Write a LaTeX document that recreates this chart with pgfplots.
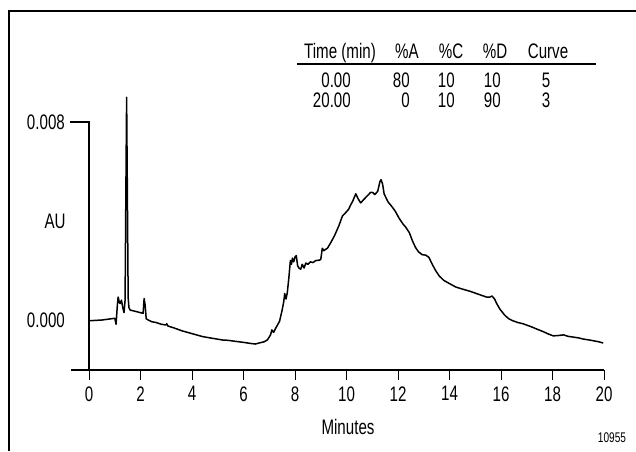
\documentclass[border=0pt]{standalone}
\usepackage{fontspec}
\setmainfont{Liberation Sans}[FakeStretch=0.72]
\usepackage{pgfplots}
\pgfplotsset{compat=1.18}
\newcommand\f{\fontsize{21}{24}\selectfont}
\newcommand\fs{\fontsize{14}{16}\selectfont}
\begin{document}
\begin{tikzpicture}
% frame (top and left edges)
\draw[line width=2.5pt] (9pt,-451pt) -- (9pt,-11pt) -- (636pt,-11pt);
\begin{axis}[
  at={(71pt,-370pt)}, anchor=south west,
  scale only axis, width=533pt, height=277.7pt,
  xmin=-0.7, xmax=20, ymin=-0.00202, ymax=0.0092,
  axis x line=bottom, axis y line=none,
  axis line style={-, line width=1.3pt},
  xtick={0,2,...,20}, ytick=\empty,
  tick align=outside, major tick length=10pt,
  every tick/.style={black, line width=1pt},
  xticklabel style={font=\f, yshift=-3pt},
  /pgf/number format/assume math mode=true,
  clip=false,
]
\addplot[black, line width=1.5pt, line join=round] coordinates {
(0.00,-0.00003) (0.50,0.00000) (1.00,0.00007) (1.05,-0.00017) (1.10,0.00060)
(1.13,0.00093) (1.18,0.00070) (1.21,0.00067) (1.26,0.00080) (1.31,0.00050)
(1.36,0.00030) (1.40,0.00080) (1.43,0.00500) (1.46,0.00900) (1.49,0.00500)
(1.52,0.00090) (1.55,0.00050) (1.60,0.00040) (1.80,0.00035) (2.10,0.00027)
(2.14,0.00087) (2.18,0.00060) (2.22,0.00005) (2.30,0.00000) (2.44,-0.00007)
(2.60,-0.00010) (2.80,-0.00017) (2.98,-0.00020) (3.02,-0.00015) (3.06,-0.00024)
(3.30,-0.00032) (3.62,-0.00044) (4.00,-0.00055) (4.41,-0.00067) (4.80,-0.00074)
(5.20,-0.00081) (5.40,-0.00082) (5.60,-0.00085) (5.98,-0.00090) (6.30,-0.00095)
(6.46,-0.00097) (6.60,-0.00093) (6.80,-0.00088) (6.93,-0.00080) (7.05,-0.00060)
(7.10,-0.00040) (7.17,-0.00050) (7.24,-0.00035) (7.32,-0.00020) (7.40,-0.00005)
(7.50,0.00040) (7.56,0.00073) (7.60,0.00107) (7.65,0.00085) (7.70,0.00110)
(7.76,0.00170) (7.82,0.00240) (7.86,0.00225) (7.90,0.00250) (7.95,0.00235)
(8.00,0.00255) (8.05,0.00260) (8.10,0.00220) (8.15,0.00210) (8.22,0.00205)
(8.28,0.00225) (8.35,0.00210) (8.42,0.00230) (8.50,0.00225) (8.60,0.00235)
(8.70,0.00232) (8.80,0.00240) (8.95,0.00242) (9.00,0.00245) (9.06,0.00290)
(9.12,0.00280) (9.18,0.00285) (9.26,0.00290) (9.40,0.00315) (9.53,0.00340)
(9.70,0.00380) (9.84,0.00420) (9.95,0.00432) (10.08,0.00447) (10.16,0.00465)
(10.24,0.00480) (10.36,0.00510) (10.45,0.00490) (10.55,0.00473) (10.67,0.00487)
(10.79,0.00500) (10.94,0.00516) (11.02,0.00515) (11.10,0.00507) (11.21,0.00520)
(11.30,0.00560) (11.34,0.00567) (11.40,0.00550) (11.46,0.00510) (11.55,0.00490)
(11.62,0.00476) (11.75,0.00460) (11.89,0.00440) (12.05,0.00410) (12.20,0.00387)
(12.30,0.00375) (12.44,0.00353) (12.56,0.00320) (12.68,0.00293) (12.80,0.00275)
(12.94,0.00264) (13.08,0.00262) (13.20,0.00253) (13.33,0.00225) (13.46,0.00200)
(13.60,0.00178) (13.78,0.00160) (14.00,0.00147) (14.25,0.00133) (14.50,0.00125)
(14.80,0.00116) (15.10,0.00105) (15.43,0.00093) (15.55,0.00092) (15.65,0.00097)
(15.75,0.00085) (15.83,0.00067) (15.95,0.00045) (16.14,0.00020) (16.30,0.00005)
(16.46,-0.00003) (16.65,-0.00010) (16.85,-0.00015) (17.17,-0.00027) (17.40,-0.00037)
(17.64,-0.00047) (17.85,-0.00057) (18.03,-0.00064) (18.20,-0.00063) (18.43,-0.00060)
(18.60,-0.00066) (18.74,-0.00068) (19.00,-0.00072) (19.20,-0.00077) (19.50,-0.00082)
(19.80,-0.00088) (19.97,-0.00093)
};
% y axis line and the single tick at 0.008
\draw[line width=1.3pt] ([xshift=-19pt]axis cs:0,0.008) -- (axis cs:0,0.008) -- (axis cs:0,-0.00202);
\node[font=\f, anchor=east, inner sep=0pt] at ([xshift=-24pt]axis cs:0,0.008) {0.008};
\node[font=\f, anchor=east, inner sep=0pt] at ([xshift=-24pt]axis cs:0,0) {0.000};
\node[font=\f, inner sep=0pt] at ([xshift=-34pt]axis cs:0,0.004) {AU};
\end{axis}
% x label and figure number
\node[font=\f, inner sep=0pt] at (348pt,-427pt) {Minutes};
\node[font=\fs, inner sep=0pt] at (612pt,-438pt) {10955};
% gradient table
\draw[line width=1.2pt] (297pt,-64pt) -- (596pt,-64pt);
\node[font=\f, anchor=base, inner sep=0pt] at (340pt,-58pt) {Time (min)};
\node[font=\f, anchor=base, inner sep=0pt] at (407pt,-58pt) {\%A};
\node[font=\f, anchor=base, inner sep=0pt] at (451pt,-58pt) {\%C};
\node[font=\f, anchor=base, inner sep=0pt] at (495pt,-58pt) {\%D};
\node[font=\f, anchor=base, inner sep=0pt] at (548pt,-58pt) {Curve};
\node[font=\f, anchor=base east, inner sep=0pt] at (351pt,-87pt) {0.00};
\node[font=\f, anchor=base east, inner sep=0pt] at (410pt,-87pt) {80};
\node[font=\f, anchor=base east, inner sep=0pt] at (455pt,-87pt) {10};
\node[font=\f, anchor=base east, inner sep=0pt] at (501pt,-87pt) {10};
\node[font=\f, anchor=base, inner sep=0pt] at (546pt,-87pt) {5};
\node[font=\f, anchor=base east, inner sep=0pt] at (351pt,-107pt) {20.00};
\node[font=\f, anchor=base east, inner sep=0pt] at (410pt,-107pt) {0};
\node[font=\f, anchor=base east, inner sep=0pt] at (455pt,-107pt) {10};
\node[font=\f, anchor=base east, inner sep=0pt] at (501pt,-107pt) {90};
\node[font=\f, anchor=base, inner sep=0pt] at (546pt,-107pt) {3};
\pgfresetboundingbox
\path[use as bounding box] (0pt,0pt) rectangle (636pt,-451pt);
\end{tikzpicture}
\end{document}
